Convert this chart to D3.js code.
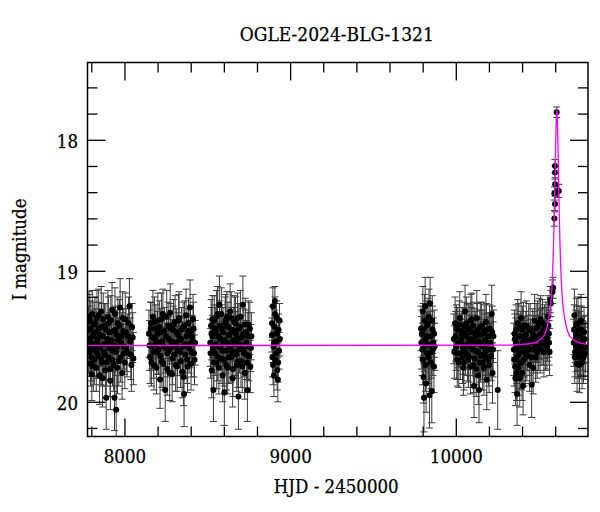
<!DOCTYPE html>
<html>
<head>
<meta charset="utf-8">
<script src="https://cdn.jsdelivr.net/npm/d3@7"></script>
<style>
  html, body { margin: 0; padding: 0; background: #fff; }
  svg { display: block; }
  text { font-family: "DejaVu Serif Condensed", "DejaVu Serif", serif; font-stretch: condensed; fill: #000; }
</style>
</head>
<body>
<div id="chart"></div>
<script>
// ---------- data (HJD - 2450000, I mag, error) ----------
const titleText = "OGLE-2024-BLG-1321";
const xLabel = "HJD - 2450000";
const yLabel = "I magnitude";
const xMajorTicks = [8000, 9000, 10000];
const xMinorTicks = [7800, 8200, 8400, 8600, 8800, 9200, 9400, 9600, 9800, 10200, 10400, 10600];
const yMajorTicks = [18, 19, 20];
const yMinorTicks = [17.6, 17.8, 18.2, 18.4, 18.6, 18.8, 19.2, 19.4, 19.6, 19.8, 20.2];

const season2017 = [[7784,19.45,0.18],[7788,19.62,0.16],[7791,19.38,0.2],[7795,19.71,0.17],[7799,19.55,0.15],[7803,19.79,0.2],[7806,19.33,0.18],[7810,19.60,0.14],[7814,19.48,0.16],[7818,19.68,0.19],[7822,19.40,0.2],[7826,19.57,0.15],[7830,19.74,0.18],[7834,19.36,0.21],[7838,19.52,0.14],[7842,19.65,0.17],[7846,19.44,0.2],[7850,19.80,0.22],[7855,19.58,0.15],[7860,19.31,0.19],[7865,19.70,0.18],[7870,19.50,0.16],[7875,19.62,0.2],[7880,19.42,0.17],[7885,19.76,0.21],[7890,19.97,0.24],[7895,19.55,0.16],[7900,19.35,0.2],[7905,19.66,0.18],[7910,19.47,0.15],[7915,19.84,0.22],[7920,19.53,0.17],[7925,19.30,0.21],[7930,19.61,0.16],[7935,19.72,0.2],[7940,19.97,0.25],[7945,19.45,0.18],[7950,20.06,0.26],[7955,19.58,0.17],[7960,19.40,0.2],[7966,19.69,0.19],[7974,19.28,0.22],[7980,19.55,0.15],[7986,19.78,0.2],[7992,19.46,0.17],[7998,19.63,0.16],[8005,19.37,0.2],[8012,19.59,0.18],[8020,19.50,0.17],[8030,19.27,0.21],[8038,19.64,0.19],[8046,19.43,0.18],[8054,19.67,0.2],
  [7782,19.58,0.2],[7786,19.35,0.19],[7793,19.52,0.17],[7797,19.44,0.21],[7801,19.66,0.18],[7808,19.50,0.2],[7812,19.73,0.19],[7816,19.41,0.17],[7820,19.56,0.2],[7828,19.47,0.18],[7832,19.62,0.2],[7836,19.55,0.16],[7844,19.34,0.2],[7848,19.59,0.19],[7852,19.49,0.17],[7858,19.67,0.2],[7862,19.43,0.18],[7868,19.82,0.22],[7872,19.37,0.2],[7878,19.56,0.17],[7883,19.64,0.19],[7888,19.45,0.2],[7893,19.70,0.18],[7898,19.52,0.17],[7903,19.40,0.2],[7908,19.59,0.18],[7913,19.75,0.21],[7918,19.38,0.19],[7923,19.54,0.17],[7928,19.68,0.2],[7933,19.46,0.18],[7938,19.57,0.19],[7943,19.33,0.2],[7948,19.62,0.18],[7953,19.49,0.19],[7958,19.74,0.2],[7963,19.53,0.17],[7970,19.42,0.2],[7977,19.66,0.19],[7983,19.50,0.18],[7989,19.36,0.2],[7995,19.58,0.17],[8002,19.70,0.2],[8009,19.47,0.18],[8016,19.62,0.19],[8025,19.40,0.2],[8034,19.54,0.18],[8042,19.72,0.2],[8050,19.51,0.19]];

const season2018 = [[8148,19.48,0.18],[8155,19.66,0.2],[8160,19.40,0.16],[8166,19.58,0.17],[8172,19.35,0.2],[8178,19.72,0.19],[8184,19.52,0.15],[8190,19.44,0.18],[8196,19.62,0.17],[8202,19.38,0.21],[8208,19.55,0.16],[8215,19.83,0.22],[8220,19.47,0.18],[8226,19.69,0.2],[8232,19.33,0.19],[8238,19.58,0.15],[8246,19.91,0.24],[8252,19.50,0.17],[8258,19.75,0.2],[8264,19.42,0.18],[8270,19.60,0.16],[8276,19.32,0.22],[8282,19.54,0.17],[8288,19.79,0.21],[8294,19.45,0.18],[8300,19.64,0.16],[8306,19.39,0.2],[8312,19.57,0.15],[8318,19.73,0.19],[8324,19.49,0.17],[8330,19.36,0.2],[8336,19.62,0.18],[8342,19.52,0.16],[8348,19.77,0.2],[8354,19.43,0.19],[8360,19.94,0.25],[8366,19.56,0.16],[8372,19.34,0.2],[8378,19.68,0.18],[8384,19.46,0.17],[8390,19.59,0.19],[8396,19.28,0.21],[8402,19.71,0.2],[8408,19.50,0.16],[8414,19.37,0.19],[8420,19.63,0.18],[8426,19.55,0.17],
  [8151,19.57,0.19],[8158,19.44,0.2],[8163,19.70,0.18],[8169,19.51,0.17],[8175,19.62,0.2],[8181,19.39,0.19],[8187,19.56,0.18],[8193,19.74,0.2],[8199,19.48,0.17],[8205,19.60,0.19],[8211,19.43,0.2],[8217,19.65,0.18],[8223,19.37,0.2],[8229,19.54,0.17],[8235,19.71,0.2],[8241,19.46,0.18],[8249,19.59,0.19],[8255,19.35,0.2],[8261,19.63,0.18],[8267,19.52,0.17],[8273,19.78,0.21],[8279,19.44,0.19],[8285,19.58,0.18],[8291,19.67,0.2],[8297,19.41,0.19],[8303,19.55,0.17],[8309,19.72,0.2],[8315,19.47,0.18],[8321,19.61,0.19],[8327,19.38,0.2],[8333,19.53,0.18],[8339,19.69,0.2],[8345,19.45,0.17],[8351,19.58,0.19],[8357,19.81,0.22],[8363,19.42,0.19],[8369,19.64,0.18],[8375,19.50,0.17],[8381,19.73,0.2],[8387,19.40,0.19],[8393,19.56,0.18],[8399,19.47,0.2],[8405,19.62,0.19],[8411,19.53,0.18],[8417,19.44,0.2],[8423,19.68,0.19]];

const season2019 = [[8518,19.55,0.18],[8523,19.42,0.2],[8527,19.76,0.21],[8532,19.50,0.16],[8537,19.91,0.24],[8542,19.38,0.19],[8547,19.63,0.17],[8552,19.46,0.18],[8557,19.70,0.2],[8562,19.33,0.21],[8567,19.58,0.15],[8573,19.26,0.22],[8578,19.52,0.17],[8583,19.67,0.19],[8588,19.44,0.18],[8593,19.80,0.2],[8598,19.55,0.16],[8603,19.93,0.25],[8608,19.40,0.2],[8613,19.61,0.17],[8618,19.35,0.19],[8623,19.74,0.2],[8628,19.49,0.16],[8633,19.57,0.18],[8638,19.31,0.21],[8643,19.66,0.19],[8648,19.45,0.17],[8653,19.82,0.22],[8658,19.53,0.16],[8663,19.39,0.2],[8668,19.62,0.18],[8673,19.48,0.17],[8678,19.72,0.2],[8683,19.36,0.19],[8688,19.96,0.25],[8693,19.56,0.16],[8698,19.43,0.18],[8703,19.69,0.2],[8708,19.51,0.17],[8715,19.26,0.22],[8720,19.60,0.18],[8726,19.78,0.2],[8732,19.47,0.17],[8737,19.64,0.19],[8742,19.91,0.24],[8748,19.41,0.18],[8754,19.58,0.17],[8760,19.73,0.2],[8766,19.50,0.18],
  [8520,19.63,0.19],[8525,19.48,0.2],[8530,19.37,0.18],[8535,19.59,0.19],[8540,19.70,0.2],[8545,19.44,0.18],[8550,19.56,0.17],[8555,19.35,0.2],[8560,19.65,0.19],[8565,19.50,0.18],[8570,19.74,0.2],[8575,19.42,0.19],[8580,19.58,0.17],[8585,19.33,0.2],[8590,19.61,0.18],[8595,19.47,0.19],[8600,19.68,0.2],[8605,19.53,0.17],[8610,19.38,0.2],[8615,19.72,0.19],[8620,19.55,0.18],[8625,19.43,0.19],[8630,19.66,0.2],[8635,19.49,0.18],[8640,19.58,0.17],[8645,19.36,0.2],[8650,19.62,0.19],[8655,19.75,0.21],[8660,19.46,0.18],[8665,19.56,0.19],[8670,19.40,0.2],[8675,19.64,0.18],[8680,19.52,0.17],[8685,19.69,0.2],[8690,19.44,0.19],[8695,19.60,0.18],[8700,19.35,0.2],[8705,19.57,0.17],[8711,19.73,0.2],[8717,19.48,0.19],[8723,19.63,0.18],[8729,19.41,0.2],[8735,19.55,0.17],[8740,19.70,0.2],[8745,19.50,0.18],[8751,19.65,0.19],[8757,19.44,0.2],[8763,19.59,0.18]];

const season2020 = [[8890,19.49,0.13],[8893,19.66,0.15],[8896,19.27,0.14],[8899,19.58,0.12],[8902,19.80,0.16],[8905,19.43,0.13],[8908,19.23,0.11],[8911,19.68,0.14],[8914,19.54,0.12],[8918,19.36,0.13],[8922,19.76,0.15],[8926,19.83,0.17],[8930,19.45,0.12],[8934,19.61,0.14],[8938,19.52,0.13],
  [8891,19.40,0.13],[8897,19.72,0.15],[8903,19.55,0.12],[8909,19.33,0.13],[8916,19.63,0.14],[8920,19.48,0.12],[8928,19.70,0.15],[8936,19.38,0.13]];

const season2022 = [[9790,19.44,0.17],[9795,19.48,0.18],[9798,19.60,0.2],[9801,19.31,0.19],[9805,19.81,0.2],[9808,19.97,0.26],[9812,19.38,0.2],[9815,19.27,0.22],[9818,19.52,0.18],[9821,19.86,0.22],[9825,19.42,0.19],[9829,19.56,0.17],[9835,19.66,0.2],[9838,19.35,0.21],[9841,19.95,0.25],[9845,19.25,0.2],[9848,19.50,0.19],[9852,19.62,0.2],[9855,19.92,0.24],[9860,19.45,0.18],[9865,19.55,0.19],[9868,19.73,0.2],[9872,19.58,0.18],
  [9792,19.55,0.2],[9800,19.68,0.19],[9803,19.45,0.2],[9810,19.58,0.19],[9817,19.72,0.2],[9823,19.50,0.18],[9827,19.63,0.2],[9832,19.40,0.19],[9843,19.57,0.18],[9850,19.70,0.2],[9858,19.38,0.19],[9862,19.60,0.2],[9870,19.48,0.18]];

const season2023 = [[9988,19.52,0.19],[9996,19.40,0.2],[10002,19.58,0.18],[10006,19.63,0.2],[10012,19.45,0.17],[10018,19.70,0.19],[10024,19.36,0.2],[10030,19.55,0.18],[10036,19.48,0.17],[10041,19.66,0.2],[10046,19.74,0.21],[10051,19.42,0.18],[10056,19.31,0.2],[10061,19.57,0.17],[10066,19.50,0.19],[10071,19.64,0.2],[10076,19.68,0.21],[10081,19.44,0.18],[10086,19.58,0.17],[10091,19.38,0.2],[10097,19.37,0.2],[10102,19.53,0.19],[10106,19.72,0.21],[10110,19.88,0.24],[10115,19.47,0.18],[10120,19.61,0.2],[10127,19.36,0.21],[10132,19.55,0.18],[10136,19.80,0.22],[10140,19.91,0.25],[10145,19.49,0.19],[10150,19.65,0.2],[10156,19.42,0.18],[10162,19.70,0.21],[10167,19.58,0.19],[10172,19.46,0.2],[10178,19.62,0.18],[10182,19.39,0.21],[10187,19.83,0.23],[10192,19.55,0.19],[10198,19.68,0.2],[10204,19.44,0.18],[10210,19.60,0.2],[10217,19.33,0.22],[10222,19.78,0.23],[10227,19.50,0.2],[10253,19.91,0.3],
  [9991,19.62,0.2],[9999,19.50,0.19],[10004,19.44,0.18],[10009,19.68,0.2],[10015,19.55,0.19],[10021,19.41,0.18],[10027,19.63,0.2],[10033,19.52,0.19],[10039,19.46,0.18],[10044,19.59,0.2],[10049,19.70,0.21],[10054,19.48,0.19],[10059,19.62,0.18],[10064,19.40,0.2],[10069,19.56,0.19],[10074,19.45,0.2],[10079,19.66,0.19],[10084,19.52,0.18],[10089,19.73,0.21],[10094,19.47,0.19],[10100,19.60,0.2],[10104,19.42,0.18],[10108,19.56,0.19],[10113,19.67,0.2],[10118,19.50,0.19],[10123,19.75,0.21],[10130,19.45,0.2],[10134,19.62,0.19],[10138,19.54,0.18],[10143,19.70,0.21],[10148,19.43,0.19],[10153,19.57,0.2],[10159,19.64,0.19],[10164,19.48,0.18],[10170,19.74,0.21],[10175,19.53,0.2],[10180,19.66,0.19],[10185,19.45,0.2],[10190,19.60,0.19],[10195,19.50,0.18],[10201,19.72,0.21],[10207,19.55,0.2],[10213,19.65,0.19],[10220,19.47,0.2],[10225,19.60,0.21]];

const season2024 = [[10350,19.60,0.2],[10354,19.48,0.18],[10358,19.73,0.2],[10362,19.55,0.19],[10366,19.78,0.21],[10370,19.94,0.24],[10374,19.40,0.18],[10378,19.64,0.2],[10382,19.50,0.17],[10386,19.82,0.22],[10390,19.58,0.19],[10394,19.36,0.2],[10398,19.70,0.21],[10402,19.45,0.18],[10406,19.88,0.22],[10410,19.62,0.19],[10414,19.53,0.18],[10420,19.66,0.2],[10426,19.42,0.19],[10432,19.58,0.18],[10440,19.45,0.2],[10446,19.72,0.2],[10452,19.55,0.18],[10458,19.87,0.25],[10464,19.48,0.19],[10470,19.60,0.18],[10476,19.38,0.2],[10482,19.66,0.19],[10488,19.52,0.17],[10494,19.43,0.2],[10500,19.58,0.18],[10506,19.49,0.19],[10512,19.37,0.18],[10520,19.55,0.17],[10526,19.46,0.18],[10532,19.62,0.19],[10538,19.50,0.17],[10544,19.42,0.18],[10550,19.58,0.17],[10556,19.35,0.16],[10562,19.48,0.18],[10566,19.62,0.18],[10570,19.22,0.1],[10574,19.25,0.1],[10584,19.16,0.09],[10587,19.13,0.08],[10595,18.60,0.06],[10595,18.41,0.05],[10599,18.49,0.06],[10599,18.20,0.05],[10599,18.25,0.05],[10600,18.34,0.05],[10609,17.79,0.04],[10614,18.39,0.05],[10622,18.39,0.05],
  [10352,19.68,0.2],[10356,19.52,0.19],[10360,19.82,0.21],[10364,19.45,0.19],[10368,19.66,0.2],[10372,19.58,0.19],[10376,19.74,0.21],[10380,19.43,0.18],[10384,19.62,0.2],[10388,19.70,0.2],[10392,19.50,0.19],[10396,19.60,0.2],[10400,19.78,0.21],[10404,19.55,0.19],[10408,19.42,0.18],[10412,19.68,0.2],[10418,19.57,0.19],[10423,19.49,0.18],[10429,19.64,0.2],[10436,19.53,0.19],[10443,19.60,0.2],[10449,19.44,0.19],[10455,19.66,0.2],[10461,19.52,0.18],[10467,19.74,0.2],[10473,19.50,0.19],[10479,19.58,0.18],[10485,19.44,0.19],[10491,19.62,0.2],[10497,19.52,0.18],[10503,19.40,0.19],[10509,19.60,0.18],[10515,19.48,0.19],[10523,19.40,0.18],[10529,19.55,0.17],[10535,19.44,0.18],[10541,19.57,0.19],[10547,19.46,0.18],[10553,19.52,0.17],[10559,19.42,0.18],[10563,19.55,0.17]];

const season2025 = [[10712,19.55,0.18],[10716,19.34,0.2],[10720,19.62,0.19],[10724,19.48,0.18],[10728,19.41,0.2],[10732,19.71,0.21],[10736,19.58,0.18],[10740,19.51,0.19],[10744,19.66,0.2],[10748,19.45,0.18],[10752,19.60,0.19],[10756,19.38,0.2],[10762,19.70,0.2],[10768,19.53,0.18],[10774,19.47,0.19],[10780,19.63,0.2],
  [10714,19.45,0.19],[10718,19.66,0.2],[10722,19.52,0.18],[10726,19.58,0.19],[10730,19.47,0.2],[10734,19.63,0.19],[10738,19.40,0.2],[10742,19.55,0.18],[10746,19.72,0.21],[10750,19.50,0.19],[10754,19.62,0.2],[10758,19.45,0.18],[10765,19.57,0.19],[10771,19.66,0.2],[10777,19.52,0.18],[10784,19.58,0.19]];

// model light curve
const modelT = [7777, 10309.5, 10409.5, 10459.5, 10504.5, 10529.5, 10544.5, 10554.5, 10564.5, 10571.5, 10577.5, 10582.5, 10586.5, 10590.5, 10594.5, 10597.5, 10600.5, 10603.5, 10606.5, 10609.5, 10612.5, 10615.5, 10618.5, 10621.5, 10624.5, 10628.5, 10632.5, 10636.5, 10641.5, 10647.5, 10654.5, 10664.5, 10674.5, 10689.5, 10714.5, 10759.5, 10798];
const modelMag = [19.572, 19.568, 19.56, 19.555, 19.53, 19.50, 19.46, 19.41, 19.34, 19.27, 19.18, 19.07, 18.94, 18.78, 18.56, 18.37, 18.17, 17.98, 17.83, 17.77, 17.83, 17.98, 18.17, 18.37, 18.56, 18.78, 18.94, 19.07, 19.18, 19.27, 19.34, 19.41, 19.46, 19.50, 19.53, 19.555, 19.563];

// ---------- layout ----------
const W = 600, H = 512;
const L = 87.5, R = 588, T = 62.5, B = 436.5;
const xDomain = [7777, 10798];
const yDomain = [17.41, 20.265];

const x = d3.scaleLinear().domain(xDomain).range([L, R]);
const y = d3.scaleLinear().domain(yDomain).range([T, B]);

const svg = d3.select("#chart").append("svg")
  .attr("width", W).attr("height", H);

svg.append("defs").append("clipPath").attr("id", "clip")
  .append("rect").attr("x", L).attr("y", T).attr("width", R - L).attr("height", B - T);

const plot = svg.append("g").attr("clip-path", "url(#clip)");

const allData = [season2017, season2018, season2019, season2020, season2022, season2023, season2024, season2025]
  .flat().map(d => ({t: d[0], m: d[1], e: d[2]}));

// error bars
const eb = plot.append("g").attr("stroke", "#3a3a3a").attr("stroke-width", 1).attr("fill", "none");
const cap = 3.5;
allData.forEach(d => {
  const px = x(d.t), y1 = y(d.m - d.e), y2 = y(d.m + d.e);
  eb.append("line").attr("x1", px).attr("x2", px).attr("y1", y1).attr("y2", y2);
  eb.append("line").attr("x1", px - cap).attr("x2", px + cap).attr("y1", y1).attr("y2", y1);
  eb.append("line").attr("x1", px - cap).attr("x2", px + cap).attr("y1", y2).attr("y2", y2);
});

// points
plot.append("g").selectAll("circle").data(allData).join("circle")
  .attr("cx", d => x(d.t)).attr("cy", d => y(d.m)).attr("r", 3).attr("fill", "#000");

// model
const modelData = modelT.map((t, i) => ({t, m: modelMag[i]}));
plot.append("path").datum(modelData)
  .attr("fill", "none").attr("stroke", "#ff00ff").attr("stroke-width", 1.3)
  .attr("d", d3.line().x(d => x(d.t)).y(d => y(d.m)).curve(d3.curveMonotoneX));

// ---------- axes (inward ticks on all four sides) ----------
const MAJ = 18, MIN = 10;
const FS = 18.5;
function styleAxis(g) {
  g.select(".domain").remove();
  g.selectAll(".tick line").attr("stroke", "#000").attr("stroke-width", 1.3);
}
function styleText(sel) {
  sel.attr("font-size", FS).attr("font-family", null).attr("fill", "#000")
     .attr("stroke", "#000").attr("stroke-width", 0.25);
}
// bottom
svg.append("g").attr("transform", `translate(0,${B})`)
  .call(d3.axisBottom(x).tickValues(xMajorTicks).tickSize(-MAJ).tickPadding(0).tickFormat(d3.format("d")))
  .call(styleAxis)
  .call(g => g.selectAll(".tick text").attr("y", 26.3).attr("dy", 0).call(styleText));
svg.append("g").attr("transform", `translate(0,${B})`)
  .call(d3.axisBottom(x).tickValues(xMinorTicks).tickSize(-MIN).tickFormat(""))
  .call(styleAxis);
// top
svg.append("g").attr("transform", `translate(0,${T})`)
  .call(d3.axisTop(x).tickValues(xMajorTicks).tickSize(-MAJ).tickFormat(""))
  .call(styleAxis);
svg.append("g").attr("transform", `translate(0,${T})`)
  .call(d3.axisTop(x).tickValues(xMinorTicks).tickSize(-MIN).tickFormat(""))
  .call(styleAxis);
// left
svg.append("g").attr("transform", `translate(${L},0)`)
  .call(d3.axisLeft(y).tickValues(yMajorTicks).tickSize(-MAJ).tickFormat(d3.format("d")))
  .call(styleAxis)
  .call(g => g.selectAll(".tick text").attr("x", -9.5).attr("dy", 7.5).call(styleText));
svg.append("g").attr("transform", `translate(${L},0)`)
  .call(d3.axisLeft(y).tickValues(yMinorTicks).tickSize(-MIN).tickFormat(""))
  .call(styleAxis);
// right
svg.append("g").attr("transform", `translate(${R},0)`)
  .call(d3.axisRight(y).tickValues(yMajorTicks).tickSize(-MAJ).tickFormat(""))
  .call(styleAxis);
svg.append("g").attr("transform", `translate(${R},0)`)
  .call(d3.axisRight(y).tickValues(yMinorTicks).tickSize(-MIN).tickFormat(""))
  .call(styleAxis);

// frame
svg.append("rect").attr("x", L).attr("y", T).attr("width", R - L).attr("height", B - T)
  .attr("fill", "none").attr("stroke", "#000").attr("stroke-width", 1.5);

// titles
svg.append("text").attr("x", (L + R) / 2 - 1).attr("y", 40.7).attr("text-anchor", "middle")
  .attr("font-size", 19).attr("stroke", "#000").attr("stroke-width", 0.25).text(titleText);
svg.append("text").attr("x", (L + R) / 2 - 1.5).attr("y", 493.3).attr("text-anchor", "middle")
  .attr("font-size", FS).attr("stroke", "#000").attr("stroke-width", 0.25).text(xLabel);
svg.append("text").attr("transform", `translate(25.5,${(T + B) / 2}) rotate(-90)`)
  .attr("text-anchor", "middle").attr("font-size", FS).attr("stroke", "#000").attr("stroke-width", 0.25).text(yLabel);
</script>
</body>
</html>
